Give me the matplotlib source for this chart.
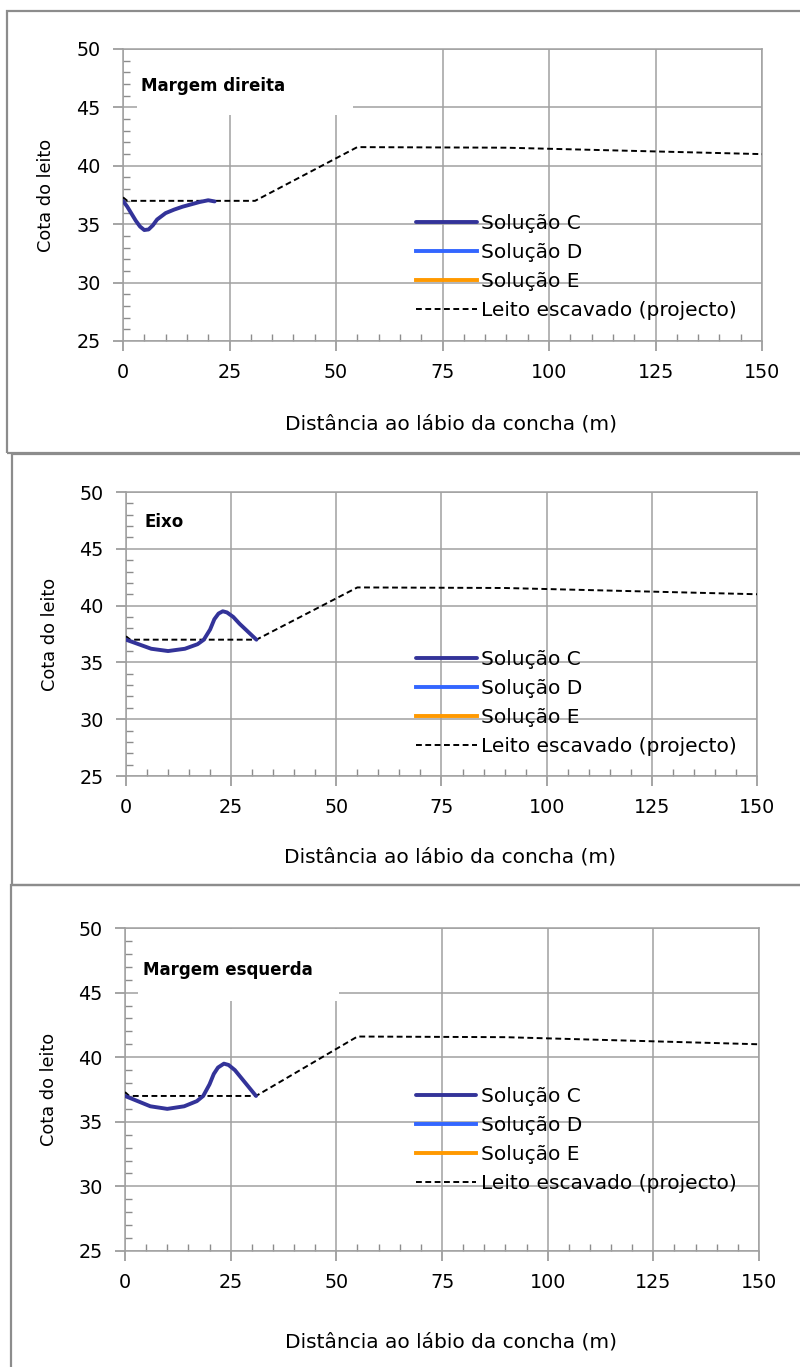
import matplotlib
matplotlib.use("Agg")
import matplotlib.pyplot as plt
from matplotlib.patches import Rectangle
from matplotlib.ticker import MultipleLocator

plt.rcParams["font.family"] = ["DejaVu Sans"]

# --- dados ---
# Leito escavado (projecto), igual nos três perfis
leito_x = [0, 1, 31, 55, 90, 150]
leito_y = [37.3, 37.0, 37.0, 41.6, 41.55, 41.0]

# Solução C - Margem direita
sol_c_dir_x = [0, 1, 2, 3, 4, 5, 6, 7, 8, 10, 12, 14, 16, 18, 20, 21.5]
sol_c_dir_y = [37.0, 36.5, 35.9, 35.3, 34.8, 34.5, 34.55, 34.9, 35.4, 35.95, 36.25, 36.5, 36.7, 36.9, 37.05, 36.95]

# Solução C - Eixo
sol_c_eixo_x = [0, 3, 6, 10, 14, 17, 18.5, 20, 21, 22, 23, 24, 25.5, 27, 29, 31]
sol_c_eixo_y = [37.0, 36.6, 36.2, 36.0, 36.2, 36.6, 37.0, 37.9, 38.8, 39.3, 39.5, 39.4, 39.0, 38.4, 37.7, 37.0]

# Solução C - Margem esquerda
sol_c_esq_x = [0, 3, 6, 10, 14, 17, 18.5, 20, 21, 22, 23.4, 24.5, 26, 27.5, 29, 31]
sol_c_esq_y = [37.0, 36.6, 36.2, 36.0, 36.2, 36.6, 37.0, 37.9, 38.7, 39.2, 39.5, 39.4, 39.0, 38.4, 37.8, 37.0]

paineis = ["Margem direita", "Eixo", "Margem esquerda"]
solucoes_x = [sol_c_dir_x, sol_c_eixo_x, sol_c_esq_x]
solucoes_y = [sol_c_dir_y, sol_c_eixo_y, sol_c_esq_y]

W, H = 800, 1367
fig = plt.figure(figsize=(W / 100, H / 100), dpi=100)

# posições dos eixos em pixels (esq, topo, dir, base)
caixas_eixos = [(123, 49, 762, 341), (126, 492, 757, 776), (125, 928, 759, 1251)]
# molduras de cada painel (esq, topo, dir, base)
molduras = [(7, 11, 815, 453), (12, 454, 815, 885), (11, 885, 815, 1380)]
# caixa branca atrás do título (data coords: x0, x1, y0)
caixas_titulo = [(3.3, 54, 44.35), (3.5, 12, 46.2), (3.0, 50.6, 44.37)]
titulo_pos = [0.028, 0.872], [0.030, 0.893], [0.028, 0.871]
legenda_pos = [(0.459, 0.435), (0.460, 0.445), (0.459, 0.507)]

for (l, t, r, b) in molduras:
    fig.patches.append(Rectangle((l / W, 1 - b / H), (r - l) / W, (b - t) / H,
                                 transform=fig.transFigure, fill=False,
                                 edgecolor="#8c8c8c", linewidth=1.6))

for i, nome in enumerate(paineis):
    l, t, r, b = caixas_eixos[i]
    ax = fig.add_axes([l / W, 1 - b / H, (r - l) / W, (b - t) / H])

    ax.plot(solucoes_x[i], solucoes_y[i], color="#333399", lw=2.8, label="Solução C", zorder=4,
            solid_capstyle="round", solid_joinstyle="round")
    ax.plot([], [], color="#3366FF", lw=2.8, label="Solução D")
    ax.plot([], [], color="#FF9900", lw=2.8, label="Solução E")
    ax.plot(leito_x, leito_y, color="black", lw=1.4, dashes=(3, 1.8),
            label="Leito escavado (projecto)", zorder=3)

    ax.set_xlim(0, 150)
    ax.set_ylim(25, 50)
    ax.xaxis.set_major_locator(MultipleLocator(25))
    ax.xaxis.set_minor_locator(MultipleLocator(5))
    ax.yaxis.set_major_locator(MultipleLocator(5))
    ax.yaxis.set_minor_locator(MultipleLocator(1))
    ax.grid(True, which="major", color="#a0a0a0", lw=1.1, zorder=0)
    ax.set_axisbelow(True)
    for s in ax.spines.values():
        s.set_color("#a0a0a0")
        s.set_linewidth(1.1)
    ax.tick_params(which="major", direction="out", length=7, width=1.1, color="#8c8c8c",
                   labelsize=13.8, pad=9)
    ax.tick_params(which="minor", direction="in", length=5, width=1.0, color="#8c8c8c")

    ax.set_xlabel("Distância ao lábio da concha (m)", fontsize=14.5)
    ax.set_ylabel("Cota do leito", fontsize=12.8)
    ax.xaxis.set_label_coords(0.514, -0.253)
    ax.yaxis.set_label_coords(-0.106, 0.5)

    x0, x1, y0 = caixas_titulo[i]
    ax.add_patch(Rectangle((x0, y0), x1 - x0, 49.9 - y0, facecolor="white",
                           edgecolor="none", zorder=1))
    ax.text(titulo_pos[i][0], titulo_pos[i][1], nome, transform=ax.transAxes,
            fontsize=12, fontweight="bold", va="center", ha="left", zorder=5)

    ax.legend(loc="upper left", bbox_to_anchor=legenda_pos[i], frameon=False,
              fontsize=14.5, handlelength=3.0, handletextpad=0.22,
              labelspacing=0.5, borderpad=0, borderaxespad=0)

fig.savefig("out.png", dpi=100)
